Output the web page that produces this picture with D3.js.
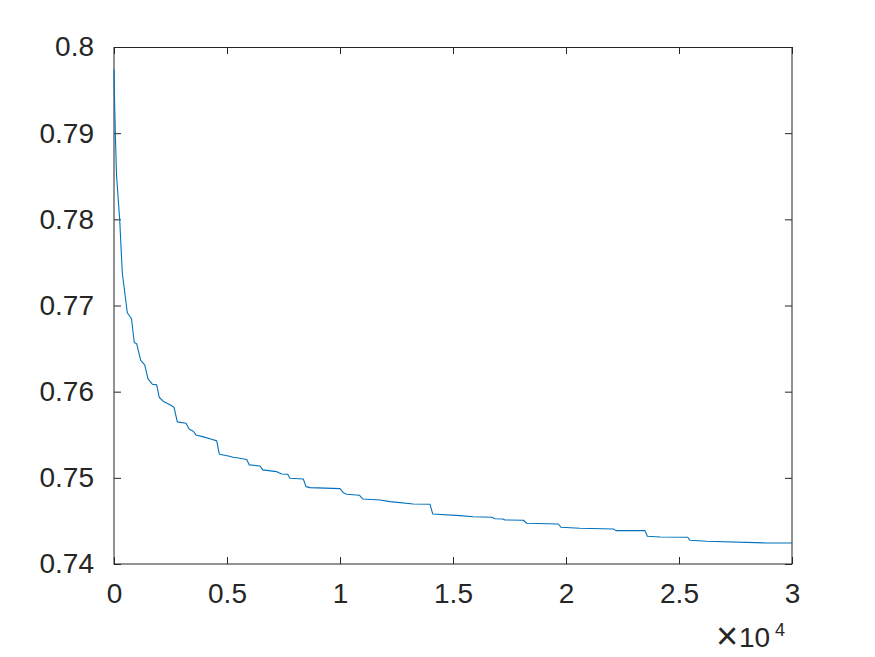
<!DOCTYPE html>
<html>
<head>
<meta charset="utf-8">
<script src="https://cdn.jsdelivr.net/npm/d3@7/dist/d3.min.js"></script>
<style>
  html, body { margin: 0; padding: 0; background: #fff; }
  svg { display: block; }
  text { font-family: "Liberation Sans", Arial, Helvetica, sans-serif; fill: #262626; }
</style>
</head>
<body>
<svg id="chart" width="875" height="657"></svg>
<script>
// Iterations (x) and objective value (y)
const iterations = [0, 13, 58, 111, 252, 367, 589, 774, 898, 1004, 1181, 1358, 1505, 1695, 1889, 2005, 2213, 2478, 2655, 2801, 3186, 3332, 3509, 3629, 3952, 4323, 4545, 4660, 5058, 5279, 5500, 5872, 5987, 6461, 6580, 7200, 7421, 7686, 7788, 8377, 8496, 8673, 10001, 10147, 10297, 10855, 11005, 11771, 12213, 13244, 13983, 14102, 15311, 15899, 16714, 16860, 17200, 17302, 18112, 18262, 19660, 19780, 20621, 22094, 22214, 23497, 23599, 24161, 25387, 25488, 26227, 28882, 30000];
const values = [0.79739, 0.79506, 0.79007, 0.78519, 0.77996, 0.7738, 0.76916, 0.76846, 0.76571, 0.76556, 0.76362, 0.76312, 0.76149, 0.76087, 0.76079, 0.75932, 0.75882, 0.75847, 0.7582, 0.75649, 0.75634, 0.75565, 0.75541, 0.75498, 0.75475, 0.75448, 0.75429, 0.75274, 0.75254, 0.75239, 0.75231, 0.75212, 0.7515, 0.75138, 0.75092, 0.75072, 0.75045, 0.75042, 0.74995, 0.74987, 0.74898, 0.74886, 0.74875, 0.74828, 0.7481, 0.74798, 0.74755, 0.74743, 0.74724, 0.74697, 0.74693, 0.74581, 0.74561, 0.74549, 0.74542, 0.74526, 0.74523, 0.74511, 0.74508, 0.74473, 0.74464, 0.74426, 0.74415, 0.74406, 0.74387, 0.74387, 0.74322, 0.74314, 0.7431, 0.74275, 0.74264, 0.74244, 0.74244];

const xTicks = [0, 5000, 10000, 15000, 20000, 25000, 30000];
const xTickLabels = ["0", "0.5", "1", "1.5", "2", "2.5", "3"];
const yTicks = [0.74, 0.75, 0.76, 0.77, 0.78, 0.79, 0.8];
const yTickLabels = ["0.74", "0.75", "0.76", "0.77", "0.78", "0.79", "0.8"];
const exponentTimes = "×";
const exponentBase = "10";
const exponentPower = "4";

const pLeft = 114, pTop = 47, pRight = 792, pBottom = 564;
const svg = d3.select("#chart");
svg.append("rect").attr("width", 875).attr("height", 657).attr("fill", "#fff");

const x = d3.scaleLinear().domain([0, 30000]).range([pLeft, pRight]);
const y = d3.scaleLinear().domain([0.74, 0.8]).range([pBottom, pTop]);

const axisColor = "#262626";
const fontSize = 28;

// Bottom axis
const gx = svg.append("g").attr("transform", `translate(0,${pBottom})`)
  .call(d3.axisBottom(x).tickValues(xTicks).tickFormat((d, i) => xTickLabels[i])
    .tickSizeInner(-7).tickSizeOuter(0).tickPadding(19));
// Top axis (ticks only)
const gxt = svg.append("g").attr("transform", `translate(0,${pTop})`)
  .call(d3.axisTop(x).tickValues(xTicks).tickFormat("").tickSizeInner(-7).tickSizeOuter(0));
// Left axis
const gy = svg.append("g").attr("transform", `translate(${pLeft},0)`)
  .call(d3.axisLeft(y).tickValues(yTicks).tickFormat((d, i) => yTickLabels[i])
    .tickSizeInner(-7).tickSizeOuter(0).tickPadding(20));
// Right axis (ticks only)
const gyr = svg.append("g").attr("transform", `translate(${pRight},0)`)
  .call(d3.axisRight(y).tickValues(yTicks).tickFormat("").tickSizeInner(-7).tickSizeOuter(0));

[gx, gxt, gy, gyr].forEach(g => {
  g.select(".domain").remove();
  g.selectAll("line").attr("stroke", axisColor).attr("stroke-width", 1);
  g.selectAll("text").attr("font-size", fontSize).attr("fill", axisColor)
    .attr("font-family", '"Liberation Sans", Arial, Helvetica, sans-serif');
});

// Box
svg.append("rect")
  .attr("x", pLeft).attr("y", pTop + 0.5)
  .attr("width", pRight - pLeft).attr("height", pBottom - pTop - 0.5)
  .attr("fill", "none").attr("stroke", axisColor).attr("stroke-width", 1);

// Line
const line = d3.line().x((d, i) => x(iterations[i])).y(d => y(d));
svg.append("path")
  .datum(values)
  .attr("d", line)
  .attr("fill", "none")
  .attr("stroke", "#0072BD")
  .attr("stroke-width", 1.1)
  .attr("stroke-linejoin", "round");

// Exponent label
svg.append("text").attr("x", 727).attr("y", 649).attr("font-size", 38)
  .attr("font-family", '"DejaVu Sans", sans-serif').attr("font-weight", 200)
  .attr("text-anchor", "middle").text(exponentTimes);
svg.append("text").attr("x", 739).attr("y", 647).attr("font-size", fontSize).text(exponentBase);
svg.append("text").attr("x", 775).attr("y", 636).attr("font-size", 18).text(exponentPower);
</script>
</body>
</html>
